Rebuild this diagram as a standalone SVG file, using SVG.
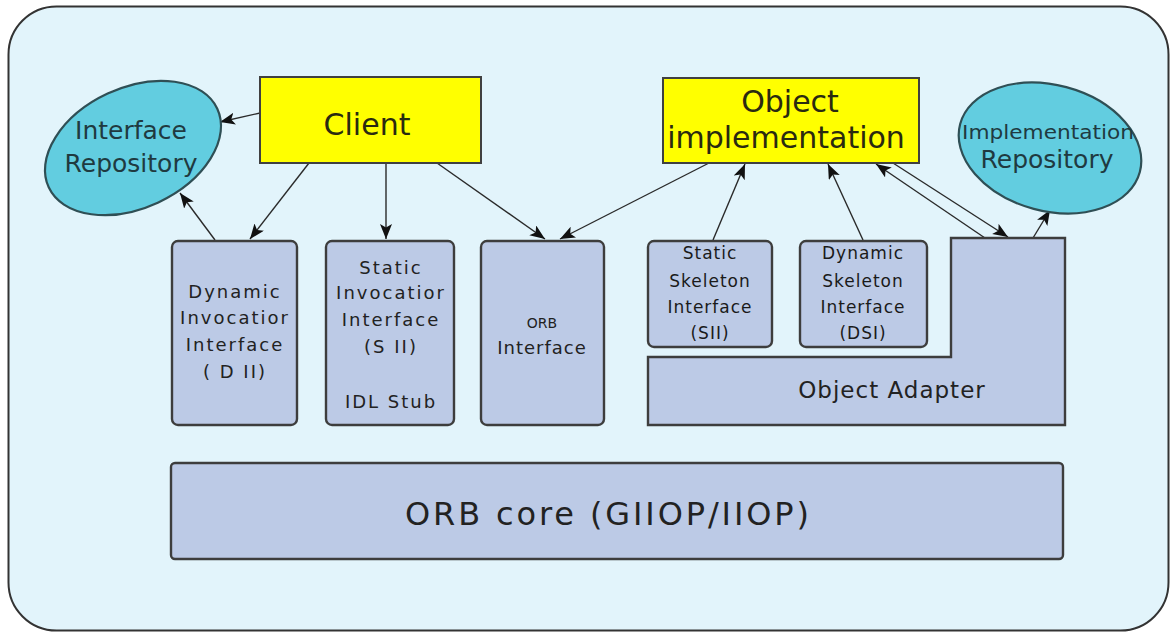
<svg xmlns="http://www.w3.org/2000/svg" width="1171" height="633" viewBox="0 0 1171 633">
  <style>
    .frame { fill: #e2f4fb; stroke: #333; stroke-width: 2; }
    .box { fill: #bccae6; stroke: #3d3d3d; stroke-width: 2.4; }
    .yel { fill: #ffff00; stroke: #404040; stroke-width: 2; }
    .repo { fill: #62cde0; stroke: #2f4f55; stroke-width: 2.2; }
    .lbl { font-family: "DejaVu Sans", "Liberation Sans", sans-serif; fill: #222; text-anchor: middle; }
    .big { font-size: 30px; fill: #2a2a10; }
    .repo-t { font-size: 25px; fill: #1f3a40; }
    .sm { font-size: 18px; letter-spacing: 2px; }
    .sk { font-size: 17px; letter-spacing: 1px; fill: #1a1a1a; }
    .conn line { stroke: #2a2a2a; stroke-width: 1.4; marker-end: url(#arrow); }
  </style>
  <defs>
    <marker id="arrow" markerUnits="userSpaceOnUse" markerWidth="16" markerHeight="14" refX="15" refY="6" orient="auto">
      <path d="M0,0 L15,6 L0,12 L3.5,6 z" fill="#111"/>
    </marker>
  </defs>

  <!-- outer frame -->
  <rect class="frame" x="8.5" y="6.5" width="1160" height="624" rx="48" ry="48"/>

  <!-- connectors -->
  <g id="connectors" class="conn">
    <line x1="260" y1="113" x2="220" y2="122"/>
    <line x1="309" y1="163" x2="250" y2="239"/>
    <line x1="386" y1="163" x2="386" y2="239"/>
    <line x1="437" y1="163" x2="545" y2="239"/>
    <line x1="709" y1="163" x2="560" y2="239"/>
    <line x1="215" y1="240" x2="180" y2="193"/>
    <line x1="713" y1="240" x2="745" y2="164"/>
    <line x1="863" y1="240" x2="828" y2="164"/>
    <line x1="985" y1="238" x2="876" y2="164"/>
    <line x1="893" y1="163" x2="1008" y2="237"/>
    <line x1="1033" y1="238" x2="1050" y2="210"/>
  </g>

  <g id="interface-repository">
    <ellipse class="repo" cx="133" cy="148" rx="93" ry="60" transform="rotate(-25 133 148)"/>
    <text class="lbl repo-t" x="131" y="139">Interface</text>
    <text class="lbl repo-t" x="131" y="172">Repository</text>
  </g>

  <g id="client">
    <rect class="yel" x="260" y="77" width="221" height="86"/>
    <text class="lbl big" x="367" y="135">Client</text>
  </g>

  <g id="object-implementation">
    <rect class="yel" x="663" y="78" width="256" height="85"/>
    <text class="lbl big" x="790" y="112">Object</text>
    <text class="lbl big" x="786" y="148">implementation</text>
  </g>

  <g id="implementation-repository">
    <ellipse class="repo" cx="1050" cy="148" rx="93" ry="63" transform="rotate(15 1050 148)"/>
    <text class="lbl" x="1048" y="139" style="font-size:19px;fill:#1f3a40" textLength="172" lengthAdjust="spacingAndGlyphs">Implementation</text>
    <text class="lbl repo-t" x="1047" y="168">Repository</text>
  </g>

  <g id="dii">
    <rect class="box" x="172" y="241" width="125" height="184" rx="6"/>
    <text class="lbl sm" x="235" y="298">Dynamic</text>
    <text class="lbl sm" x="235" y="324">Invocatior</text>
    <text class="lbl sm" x="235" y="351">Interface</text>
    <text class="lbl sm" x="235" y="378">( D II)</text>
  </g>

  <g id="sii">
    <rect class="box" x="326" y="241" width="128" height="184" rx="6"/>
    <text class="lbl sm" x="391" y="274">Static</text>
    <text class="lbl sm" x="391" y="299">Invocatior</text>
    <text class="lbl sm" x="391" y="326">Interface</text>
    <text class="lbl sm" x="391" y="353">(S II)</text>
    <text class="lbl sm" x="391" y="408">IDL  Stub</text>
  </g>

  <g id="orb-interface">
    <rect class="box" x="481" y="241" width="123" height="184" rx="6"/>
    <text class="lbl" x="542" y="328" style="font-size:14px">ORB</text>
    <text class="lbl" x="542" y="354" style="font-size:18px;letter-spacing:1px">Interface</text>
  </g>

  <g id="object-adapter">
    <path class="box" d="M648,357 L951,357 L951,238 L1065,238 L1065,425 L648,425 Z"/>
    <text class="lbl" x="892" y="398" style="font-size:23px;letter-spacing:1px">Object Adapter</text>
  </g>

  <g id="ssi">
    <rect class="box" x="648" y="241" width="124" height="106" rx="6"/>
    <text class="lbl sk" x="710" y="259">Static</text>
    <text class="lbl sk" x="710" y="287">Skeleton</text>
    <text class="lbl sk" x="710" y="313">Interface</text>
    <text class="lbl sk" x="710" y="339">(SII)</text>
  </g>

  <g id="dsi">
    <rect class="box" x="800" y="241" width="127" height="106" rx="6"/>
    <text class="lbl sk" x="863" y="259">Dynamic</text>
    <text class="lbl sk" x="863" y="287">Skeleton</text>
    <text class="lbl sk" x="863" y="313">Interface</text>
    <text class="lbl sk" x="863" y="339">(DSI)</text>
  </g>

  <g id="orb-core">
    <rect class="box" x="171" y="463" width="892" height="96" rx="4"/>
    <text class="lbl" x="607" y="525" style="font-size:32px" textLength="404" lengthAdjust="spacing">ORB core (GIIOP/IIOP)</text>
  </g>
</svg>
